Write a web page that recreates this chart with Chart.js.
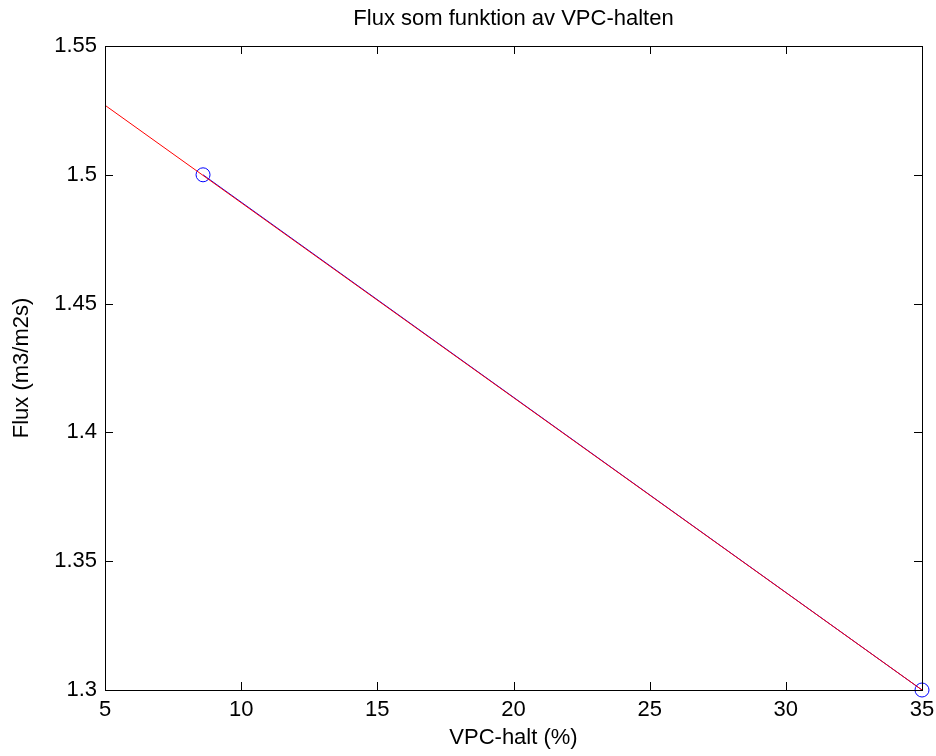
<!DOCTYPE html>
<html>
<head>
<meta charset="utf-8">
<script src="https://cdn.jsdelivr.net/npm/chart.js@4"></script>
<style>
  html, body { margin: 0; padding: 0; background: #fff; }
  #wrap { width: 936px; height: 756px; }
</style>
</head>
<body>
<div id="wrap"><canvas id="flux-chart" width="936" height="756"></canvas></div>
<script>
// Data
const lineX = [5, 35];
const lineY = [1.527, 1.3];
const markX = [8.6, 35];
const markY = [1.5, 1.3];
const xTicks = [5, 10, 15, 20, 25, 30, 35];
const yTicks = [1.3, 1.35, 1.4, 1.45, 1.5, 1.55];
const chartTitle = 'Flux som funktion av VPC-halten';

const FONT = '"Liberation Sans", Arial, sans-serif';
Chart.defaults.font.family = FONT;
Chart.defaults.color = '#000';

const toPoints = (xs, ys) => xs.map((x, i) => ({ x, y: ys[i] }));

// MATLAB-like box with inward ticks on all four sides, title centred on the axes
const boxPlugin = {
    id: 'matlabBox',
    afterDatasetsDraw(chart) {
        const { ctx, chartArea: a, scales: { x, y } } = chart;
        const len = 8;
        ctx.save();
        ctx.strokeStyle = '#000';
        ctx.lineWidth = 1;
        ctx.beginPath();
        xTicks.forEach(v => {
            const px = Math.round(x.getPixelForValue(v)) + 0.5;
            ctx.moveTo(px, a.bottom); ctx.lineTo(px, a.bottom - len);
            ctx.moveTo(px, a.top); ctx.lineTo(px, a.top + len);
        });
        yTicks.forEach(v => {
            const py = Math.round(y.getPixelForValue(v)) + 0.5;
            ctx.moveTo(a.left, py); ctx.lineTo(a.left + len, py);
            ctx.moveTo(a.right, py); ctx.lineTo(a.right - len, py);
        });
        ctx.stroke();
        ctx.strokeRect(Math.round(a.left) + 0.5, Math.round(a.top) + 0.5,
            Math.round(a.right - a.left), Math.round(a.bottom - a.top));

        ctx.fillStyle = '#000';
        ctx.font = '22px ' + FONT;
        ctx.textAlign = 'center';
        ctx.textBaseline = 'middle';
        ctx.fillText(chartTitle, (a.left + a.right) / 2, 19);
        ctx.restore();
    }
};

new Chart(document.getElementById('flux-chart').getContext('2d'), {
    type: 'scatter',
    data: {
        datasets: [
            {
                data: toPoints(lineX, lineY),
                showLine: true,
                borderColor: '#ff0000',
                borderWidth: 1,
                pointRadius: 0,
                order: 1
            },
            {
                data: toPoints(markX, markY),
                showLine: true,
                borderColor: '#0000ff',
                borderWidth: 1,
                pointStyle: 'circle',
                pointRadius: 7,
                pointBorderColor: '#0000ff',
                pointBackgroundColor: 'rgba(0,0,0,0)',
                pointBorderWidth: 1,
                clip: false,
                order: 2
            }
        ]
    },
    options: {
        responsive: false,
        animation: false,
        events: [],
        layout: { padding: { left: 0, right: 14, top: 46, bottom: 0 } },
        plugins: {
            legend: { display: false },
            tooltip: { enabled: false },
            title: { display: false }
        },
        scales: {
            x: {
                type: 'linear',
                min: 5,
                max: 35,
                afterBuildTicks: s => { s.ticks = xTicks.map(v => ({ value: v })); },
                afterFit: s => { s.height = 66; s.paddingLeft = 0; s.paddingRight = 0; },
                grid: { display: false, drawTicks: false },
                border: { display: false },
                ticks: { padding: 7, font: { size: 22 }, color: '#000', maxRotation: 0 },
                title: {
                    display: true,
                    text: 'VPC-halt (%)',
                    color: '#000',
                    font: { size: 22 },
                    padding: { top: 0, bottom: 5 }
                }
            },
            y: {
                type: 'linear',
                min: 1.3,
                max: 1.55,
                afterBuildTicks: s => { s.ticks = yTicks.map(v => ({ value: v })); },
                afterFit: s => { s.width = 105; s.paddingTop = 0; s.paddingBottom = 0; },
                grid: { display: false, drawTicks: false },
                border: { display: false },
                ticks: {
                    padding: 8,
                    font: { size: 22 },
                    color: '#000',
                    callback: v => String(+v.toFixed(2))
                },
                title: {
                    display: true,
                    text: 'Flux (m3/m2s)',
                    color: '#000',
                    font: { size: 22 },
                    padding: { top: 9, bottom: 0 }
                }
            }
        }
    },
    plugins: [boxPlugin]
});
</script>
</body>
</html>
